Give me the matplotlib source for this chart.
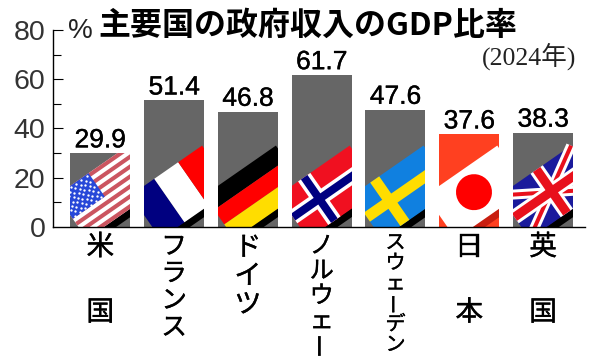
import matplotlib
matplotlib.use("Agg")
import matplotlib.pyplot as plt
from matplotlib.patches import Polygon, Circle
from matplotlib.transforms import Affine2D
import matplotlib.patheffects as pe

countries = ["米国", "フランス", "ドイツ", "ノルウェー", "スウェーデン", "日本", "英国"]
values = [29.9, 51.4, 46.8, 61.7, 47.6, 37.6, 38.3]
yticks_major = [0, 20, 40, 60, 80]
yticks_minor = [10, 30, 50, 70]
title = "主要国の政府収入のGDP比率"
subtitle = "(2024年)"

W, H = 600, 359
JP = "Noto Sans CJK JP"
fig = plt.figure(figsize=(W / 100, H / 100), dpi=100, facecolor="white")
ax = fig.add_axes([53 / W, (H - 226.7) / H, 532 / W, 196.7 / H])
xpos = list(range(len(values)))
colors = ["#666666"] * 7
colors[5] = "#ff4020"
bars = ax.bar(xpos, values, width=0.813, color=colors, zorder=2)
ax.set_xlim(-0.641, 6.568)
ax.set_ylim(0, 80)
for s in ("top", "right"):
    ax.spines[s].set_visible(False)
for s in ("left", "bottom"):
    ax.spines[s].set_linewidth(1.0)
    ax.spines[s].set_zorder(5)
ax.set_xticks([])
ax.set_yticks(yticks_major)
ax.set_yticks(yticks_minor, minor=True)
ax.tick_params(axis="y", which="major", direction="in", length=7.2, width=0.8, pad=5.5,
               labelsize=20.5, labelfontfamily="Liberation Sans", labelcolor="#333333")
ax.tick_params(axis="y", which="minor", direction="in", length=5.8, width=0.8)
ax.yaxis.get_major_ticks()[0].tick1line.set_visible(False)

for b, v in zip(bars, values):
    ax.annotate(f"{v:.1f}", (b.get_x() + b.get_width() / 2, v), xytext=(0, 4.2),
                textcoords="offset points", ha="center", va="baseline", fontsize=19,
                family="Liberation Sans", color="black",
                path_effects=[pe.withStroke(linewidth=0.25, foreground="black")])

FW, FH = 87.5, 53.0
ux, uy, vx, vy = 0.82, 0.57, 0.57, -0.82


def flag_transform(bar):
    x0, _ = ax.transData.transform((bar.get_x(), 0))
    _, ytop = ax.transData.transform((0, 33))
    tlx = x0 + 58 - FW * ux
    tly = ytop - FW * uy
    return Affine2D.from_values(ux, uy, vx, vy, tlx, tly)


def poly(bar, tf, pts, color, z=3):
    p = Polygon(pts, closed=True, facecolor=color, edgecolor="none", transform=tf, zorder=z)
    ax.add_patch(p)
    p.set_clip_path(bar)
    return p


def rect(bar, tf, u0, v0, u1, v1, color, z=3):
    return poly(bar, tf, [(u0, v0), (u1, v0), (u1, v1), (u0, v1)], color, z)


def shadow(bar, tf, color="black"):
    rect(bar, tf, 0, FH - 0.5, FW + 4, FH + 7, color, 2.5)


def cross(bar, tf, cu, t, color, z=3):
    rect(bar, tf, cu - t / 2, 0, cu + t / 2, FH, color, z)
    rect(bar, tf, 0, FH / 2 - t / 2, FW, FH / 2 + t / 2, color, z)


def diag(bar, tf, a, b, t, color, z=3):
    dx, dy = b[0] - a[0], b[1] - a[1]
    n = (dx * dx + dy * dy) ** 0.5
    ox, oy = -dy / n * t / 2, dx / n * t / 2
    poly(bar, tf, [(a[0] + ox, a[1] + oy), (b[0] + ox, b[1] + oy),
                   (b[0] - ox, b[1] - oy), (a[0] - ox, a[1] - oy)], color, z)


# USA
b = bars[0]; tf = flag_transform(b); shadow(b, tf)
rect(b, tf, 0, 0, FW, FH, "white")
for i in range(0, 13, 2):
    rect(b, tf, 0, i * FH / 13, FW, (i + 1) * FH / 13, "#cb5560", 3.1)
cw, ch = 39, 7 * FH / 13
rect(b, tf, 0, 0, cw, ch, "#2748d8", 3.2)
star_u = []
star_v = []
for r in range(9):
    for c in range(6 if r % 2 == 0 else 5):
        star_u.append((c + (0.5 if r % 2 == 0 else 1.0)) * cw / 6)
        star_v.append((r + 0.5) * ch / 9)
ln, = ax.plot(star_u, star_v, ls="none", marker="o", ms=1.7, mfc="white", mec="white",
              mew=0, transform=tf, zorder=3.3, scalex=False, scaley=False)
ln.set_clip_path(b)

# France
b = bars[1]; tf = flag_transform(b); shadow(b, tf)
rect(b, tf, 0, 0, FW / 3, FH, "#000080")
rect(b, tf, FW / 3, 0, 2 * FW / 3, FH, "white")
rect(b, tf, 2 * FW / 3, 0, FW, FH, "#ff0000")

# Germany
b = bars[2]; tf = flag_transform(b); shadow(b, tf)
rect(b, tf, 0, 0, FW, FH / 3, "black")
rect(b, tf, 0, FH / 3, FW, 2 * FH / 3, "#ff0000")
rect(b, tf, 0, 2 * FH / 3, FW, FH, "#ffdd00")

# Norway
b = bars[3]; tf = flag_transform(b); shadow(b, tf)
rect(b, tf, 0, 0, FW, FH, "#f01020")
cross(b, tf, 32, 15, "white", 3.1)
cross(b, tf, 32, 8, "#000080", 3.2)

# Sweden
b = bars[4]; tf = flag_transform(b); shadow(b, tf)
rect(b, tf, 0, 0, FW, FH, "#1080e0")
cross(b, tf, 28, 11, "#ffdd00", 3.1)

# Japan
b = bars[5]; tf = flag_transform(b); shadow(b, tf, "#c81e10")
rect(b, tf, 0, 0, FW, FH, "white")
c = Circle((41.7, 25), 18, facecolor="#ff0000", edgecolor="none", transform=tf, zorder=3.2)
ax.add_patch(c)
c.set_clip_path(b)

# UK
b = bars[6]; tf = flag_transform(b); shadow(b, tf)
rect(b, tf, 0, 0, FW, FH, "#1a1a9c")
cu, cv = 45.5, FH / 2
for a, e in (((0, 0), (FW, FH)), ((0, FH), (FW, 0))):
    diag(b, tf, a, e, 10, "white", 3.1)
    diag(b, tf, a, e, 4, "#e8101c", 3.2)
cross(b, tf, cu, 15, "white", 3.3)
cross(b, tf, cu, 9, "#e8101c", 3.4)


def px_text(x, y, s, **kw):
    return fig.text(x / W, 1 - y / H, s, ha=kw.pop("ha", "center"), va=kw.pop("va", "center"), **kw)


px_text(98, 26, title, ha="left", family=JP, weight="bold", fontsize=23, color="black")
px_text(80.5, 31, "%", family="Liberation Sans", fontsize=20, color="#222222")
px_text(529, 56, subtitle, family=["Liberation Serif", JP], fontsize=18.5, color="#222222")

starts = [247, 247, 248, 246, 243, 247, 247]
steps = [65.5, 27, 28.5, 25, 20.4, 65.5, 65.5]
sizes = [20, 18.5, 19.5, 17.5, 14.5, 20, 20]
stroke = [pe.withStroke(linewidth=0.25, foreground="black")]
for b, name, y0, st, fs in zip(bars, countries, starts, steps, sizes):
    cx = ax.transData.transform((b.get_x() + b.get_width() / 2, 0))[0]
    for i, ch_ in enumerate(name):
        px_text(cx, y0 + i * st, ch_, family=JP, fontsize=fs, color="black",
                rotation=90 if ch_ == "ー" else 0, path_effects=stroke)

fig.savefig("out.png", dpi=100, facecolor="white")
